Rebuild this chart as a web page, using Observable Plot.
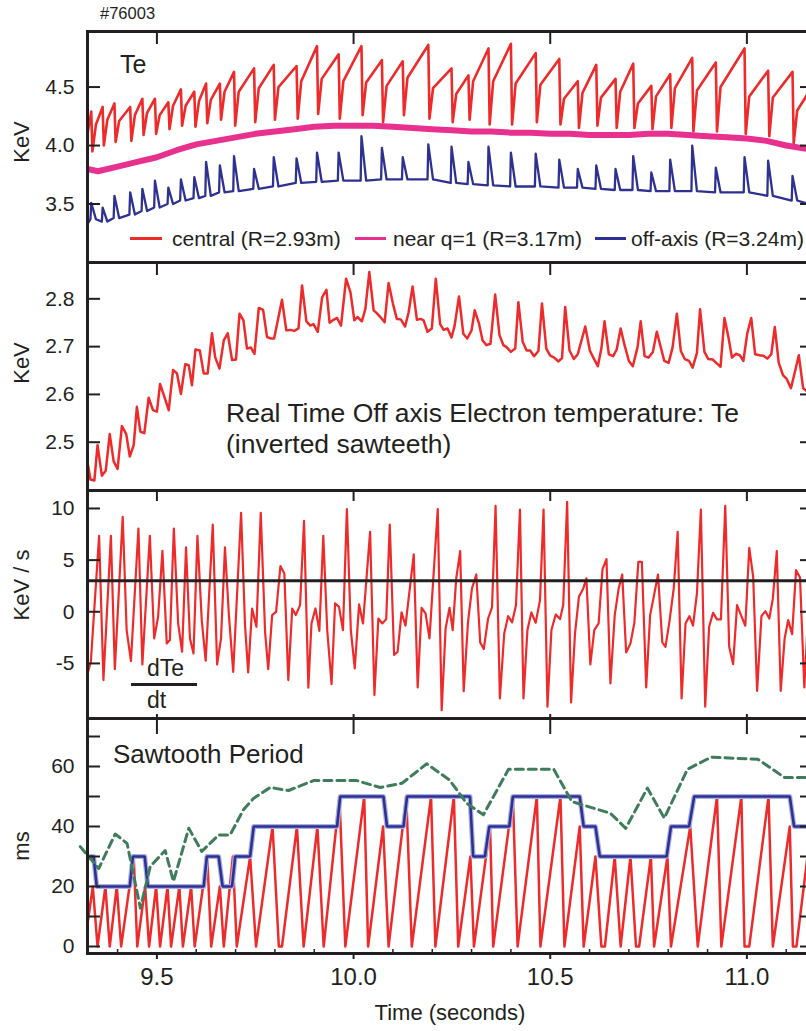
<!DOCTYPE html>
<html><head><meta charset="utf-8">
<script src="https://cdn.jsdelivr.net/npm/d3@7"></script>
<script src="https://cdn.jsdelivr.net/npm/@observablehq/plot@0.6"></script>
<style>
body{margin:0;background:#fff;}
#chart{position:relative;width:806px;height:1031px;overflow:hidden;background:#fff;font-family:"Liberation Sans",Arial,Helvetica,sans-serif;color:#231f20;}
.lbl{position:absolute;white-space:nowrap;line-height:1;}
.sw{position:absolute;height:3px;}
</style></head><body><div id="chart"></div>
<script>
// ---------- shared axis values ----------
const timeDomain = [9.3235, 11.1541];
const xTicks = [9.5, 10.0, 10.5, 11.0];
const xMinorTicks = [9.4, 9.6, 9.7, 9.8, 9.9, 10.1, 10.2, 10.3, 10.4, 10.6, 10.7, 10.8, 10.9, 11.1];

// ---------- panel 1 : Te traces (sawtooth crash times, s) ----------
const teCrashT = [9.333, 9.362, 9.392, 9.432, 9.463, 9.495, 9.529, 9.561, 9.595, 9.625, 9.660, 9.696, 9.747, 9.797, 9.855, 9.907, 9.962, 10.020, 10.072, 10.125, 10.190, 10.249, 10.292, 10.343, 10.400, 10.463, 10.523, 10.570, 10.617, 10.666, 10.711, 10.757, 10.805, 10.861, 10.921, 10.994, 11.054, 11.116];
const centralPeak = [4.29, 4.33, 4.36, 4.33, 4.40, 4.40, 4.37, 4.48, 4.46, 4.53, 4.53, 4.63, 4.66, 4.69, 4.68, 4.85, 4.78, 4.85, 4.73, 4.72, 4.86, 4.66, 4.60, 4.83, 4.87, 4.79, 4.74, 4.55, 4.69, 4.57, 4.70, 4.51, 4.61, 4.75, 4.71, 4.83, 4.64, 4.63];
const centralBottom = [3.95, 4.00, 4.03, 4.04, 4.09, 4.10, 4.14, 4.17, 4.16, 4.19, 4.22, 4.17, 4.20, 4.22, 4.23, 4.27, 4.23, 4.26, 4.20, 4.26, 4.23, 4.20, 4.22, 4.18, 4.18, 4.20, 4.18, 4.15, 4.17, 4.15, 4.15, 4.14, 4.15, 4.12, 4.12, 4.10, 4.08, 4.02];
const centralKnee = [4.18, 4.22, 4.21, 4.26, 4.28, 4.26, 4.34, 4.34, 4.38, 4.39, 4.46, 4.46, 4.49, 4.50, 4.55, 4.57, 4.55, 4.54, 4.51, 4.58, 4.49, 4.44, 4.55, 4.55, 4.53, 4.52, 4.40, 4.45, 4.41, 4.46, 4.36, 4.42, 4.49, 4.47, 4.50, 4.42, 4.41, 4.30];
const centralStartEnd = [[9.3235, 4.10], [11.156, 4.45]];
const offBase = [3.37, 3.35, 3.38, 3.41, 3.44, 3.47, 3.50, 3.53, 3.55, 3.57, 3.60, 3.61, 3.63, 3.65, 3.68, 3.69, 3.70, 3.70, 3.71, 3.71, 3.71, 3.68, 3.67, 3.66, 3.65, 3.65, 3.64, 3.64, 3.63, 3.62, 3.62, 3.61, 3.61, 3.61, 3.60, 3.60, 3.57, 3.53];
const offSpike = [3.51, 3.47, 3.57, 3.60, 3.63, 3.70, 3.64, 3.71, 3.73, 3.86, 3.83, 3.91, 3.80, 3.90, 3.89, 3.94, 3.94, 4.08, 3.98, 3.90, 4.01, 3.99, 3.86, 3.99, 3.94, 3.93, 3.88, 3.80, 3.83, 3.80, 3.91, 3.77, 3.88, 4.00, 3.81, 3.90, 3.87, 3.74];
const offStartEnd = [[9.3235, 3.33], [11.156, 3.50]];
const nearQT = [9.3235, 9.35, 9.40, 9.45, 9.50, 9.55, 9.60, 9.65, 9.70, 9.75, 9.80, 9.85, 9.90, 9.95, 10.00, 10.05, 10.10, 10.15, 10.20, 10.25, 10.30, 10.35, 10.40, 10.45, 10.50, 10.55, 10.60, 10.65, 10.70, 10.75, 10.80, 10.85, 10.90, 10.95, 11.00, 11.05, 11.10, 11.156];
const nearQV = [3.80, 3.78, 3.82, 3.86, 3.90, 3.96, 4.01, 4.04, 4.07, 4.10, 4.12, 4.14, 4.16, 4.17, 4.17, 4.17, 4.16, 4.15, 4.14, 4.13, 4.12, 4.12, 4.11, 4.11, 4.10, 4.10, 4.09, 4.09, 4.09, 4.10, 4.10, 4.09, 4.08, 4.07, 4.06, 4.04, 4.00, 3.97];

// ---------- panel 2 : real-time off-axis Te (keV) ----------
const rtT = [9.324,9.331,9.341,9.349,9.360,9.370,9.380,9.390,9.400,9.411,9.422,9.431,9.441,9.449,9.458,9.468,9.479,9.490,9.500,9.508,9.519,9.530,9.541,9.551,9.561,9.572,9.581,9.589,9.598,9.609,9.619,9.629,9.640,9.648,9.659,9.670,9.680,9.691,9.701,9.710,9.720,9.729,9.739,9.748,9.759,9.770,9.780,9.790,9.798,9.818,9.829,9.839,9.849,9.860,9.869,9.880,9.890,9.898,9.909,9.920,9.931,9.939,9.949,9.958,9.968,9.981,9.992,10.002,10.010,10.021,10.030,10.040,10.051,10.059,10.070,10.079,10.089,10.100,10.110,10.120,10.131,10.140,10.150,10.161,10.170,10.178,10.188,10.199,10.209,10.220,10.229,10.239,
10.249,10.257,10.268,10.279,10.289,10.300,10.308,10.319,10.328,10.338,10.348,10.360,10.371,10.381,10.389,10.400,10.411,10.419,10.430,10.440,10.449,10.459,10.470,10.479,10.490,10.500,10.510,10.521,10.530,10.538,10.549,10.560,10.570,10.589,10.601,10.611,10.621,10.630,10.638,10.649,10.660,10.669,10.679,10.689,10.700,10.710,10.722,10.730,10.740,10.750,10.761,10.771,10.781,10.790,10.801,10.811,10.822,10.832,10.842,10.853,10.862,10.873,10.881,10.892,10.902,10.913,10.922,10.933,10.943,10.953,10.962,10.972,10.982,10.991,11.001,11.011,11.021,11.032,11.042,11.052,11.062,11.071,11.081,11.092,11.101,11.112,11.122,11.132,11.143,11.154];
const rtV = [2.456,2.422,2.420,2.494,2.430,2.441,2.517,2.460,2.444,2.534,2.517,2.470,2.494,2.574,2.522,2.519,2.593,2.567,2.564,2.622,2.595,2.567,2.651,2.644,2.601,2.663,2.661,2.619,2.694,2.692,2.644,2.644,2.728,2.678,2.654,2.713,2.728,2.672,2.673,2.769,2.755,2.696,2.698,2.685,2.781,2.777,2.720,2.717,2.717,2.798,2.734,2.735,2.733,2.738,2.828,2.753,2.744,2.747,2.731,2.803,2.819,2.750,2.756,2.760,2.744,2.842,2.814,2.755,2.762,2.753,2.779,2.856,2.776,2.770,2.760,2.751,2.833,2.790,2.758,2.757,2.742,2.772,2.826,2.756,2.758,2.755,2.731,2.738,2.842,2.747,2.735,2.738,
2.719,2.744,2.805,2.727,2.717,2.734,2.776,2.748,2.713,2.703,2.706,2.809,2.724,2.703,2.699,2.689,2.696,2.793,2.710,2.692,2.692,2.680,2.691,2.790,2.696,2.681,2.677,2.669,2.676,2.783,2.692,2.674,2.684,2.742,2.691,2.675,2.659,2.696,2.753,2.684,2.680,2.694,2.738,2.703,2.670,2.659,2.699,2.753,2.680,2.677,2.689,2.731,2.699,2.670,2.666,2.698,2.769,2.691,2.674,2.670,2.656,2.687,2.778,2.689,2.674,2.673,2.666,2.658,2.760,2.720,2.677,2.685,2.682,2.670,2.728,2.760,2.684,2.682,2.681,2.675,2.684,2.741,2.666,2.640,2.633,2.613,2.647,2.682,2.613,2.606];

// ---------- panel 3 : dTe/dt (keV/s) ----------
const dTeT = [9.325,9.332,9.353,9.364,9.383,9.393,9.413,9.423,9.434,9.453,9.463,9.482,9.493,9.503,9.514,9.525,9.533,9.543,9.554,9.564,9.574,9.584,9.593,9.603,9.614,9.624,9.642,9.653,9.663,9.673,9.683,9.694,9.714,9.724,9.732,9.742,9.753,9.764,9.775,9.783,9.793,9.803,9.814,9.824,9.834,9.844,9.853,9.864,9.874,9.885,9.893,9.903,9.913,9.923,9.933,9.944,9.953,9.963,9.973,9.983,9.993,10.003,10.014,10.024,10.042,10.053,10.063,10.073,10.083,10.092,10.103,10.112,10.122,10.132,10.153,10.163,10.173,10.183,10.193,10.214,10.224,10.234,10.244,
10.252,10.261,10.271,10.280,10.291,10.301,10.312,10.322,10.331,10.342,10.352,10.361,10.372,10.383,10.393,10.403,10.413,10.423,10.432,10.442,10.452,10.463,10.474,10.483,10.493,10.503,10.514,10.525,10.533,10.543,10.553,10.563,10.573,10.584,10.592,10.602,10.612,10.623,10.633,10.643,10.653,10.664,10.674,10.683,10.693,10.704,10.714,10.724,10.733,10.744,10.754,10.764,10.774,10.785,10.793,10.803,10.814,10.824,10.834,10.844,10.854,10.863,10.873,10.883,10.894,10.904,10.914,10.924,10.934,10.945,10.955,10.965,10.975,10.986,10.996,11.006,11.016,11.026,11.037,11.047,11.057,11.066,11.076,11.086,11.096,11.105,11.115,11.125,11.135,11.146,11.156];
const dTeV = [-5.8,-4.84,7.35,-6.61,7.35,-5.55,9.19,-1.77,-4.77,8.06,-5.10,7.35,-2.58,-0.48,5.90,-3.06,-2.74,8.06,-1.13,-3.87,6.23,-2.58,-4.03,7.35,-0.81,-4.74,8.45,-5.10,-2.58,6.23,-0.32,-5.81,9.58,-1.29,-5.87,0.32,-1.45,9.58,-1.94,-5.55,-0.32,0,4.42,3.71,-6.61,0.32,-0.32,0.65,8.81,-7.35,-1.13,0.32,-1.84,7.35,-1.77,-7.0,0.81,0.48,-1.77,9.94,-1.77,-5.48,0.71,-1.13,7.74,-8.06,-0.65,-1.13,-0.71,8.45,-4.19,-3.87,-0.06,-1.35,5.55,-7.32,0.39,-0.16,-2.58,9.94,-9.52,-1.61,0.39,
-1.77,3.23,5.87,-7.68,-0.97,2.26,3.61,-2.97,-3.61,-0.65,0.42,10.26,-8.39,-2.10,-0.42,-1.03,0.65,9.90,-8.39,-1.77,-0.06,-1.06,1.13,9.90,-9.19,-1.77,-0.26,-0.71,0.65,10.65,-8.77,-2.10,1.45,2.26,3.23,-5.10,-1.77,-1.13,4.13,5.10,-6.94,-0.32,2.26,3.61,-3.94,-3.06,-1.03,4.84,4.84,-7.32,-0.32,1.61,3.61,-2.97,-3.39,-0.97,2.26,7.74,-8.39,-1.13,-0.42,-1.35,1.77,9.90,-9.19,-1.45,-0.10,-0.74,-0.74,10.26,-3.39,-5.06,0.65,-0.42,-1.35,6.19,3.39,-7.65,-0.42,0.06,-0.65,1.29,5.87,-7.65,-2.58,-0.81,-2.16,4.03,3.32,-7.32,-0.10];
const dTeThreshold = 3;

// ---------- panel 4 : sawtooth period (ms) ----------
const sawT = [9.324,9.337,9.349,9.369,9.380,9.398,9.409,9.441,9.450,9.470,9.480,9.498,9.508,9.527,9.536,9.557,9.566,9.587,9.596,9.628,9.638,9.660,9.670,9.693,9.703,9.737,9.752,9.794,9.810,9.818,9.856,9.873,9.908,9.924,9.964,9.979,10.027,10.037,10.075,10.089,10.134,10.148,10.197,10.208,10.255,10.266,10.297,10.306,10.347,10.355,10.405,10.417,10.466,10.475,10.526,10.536,10.575,10.585,10.615,10.630,10.639,10.664,10.679,10.704,10.718,10.726,10.756,10.764,10.798,10.807,10.856,10.875,10.924,10.935,10.986,10.994,11.006,11.055,11.066,11.109,11.117,11.126,11.154];
const sawV = [8,20,0,20,0,20,0,30,0,20,0,20,0,20,0,20,0,20,0,30,0,20,0,30,0,30,0,40,0,0,40,0,40,0,50,0,50,0,40,0,50,0,50,0,50,0,30,0,40,0,50,0,50,0,50,0,40,0,30,0,0,30,0,30,0,0,30,0,30,0,40,0,50,0,50,0,0,50,0,40,0,0,30];
const stepT = [9.3235,9.339,9.347,9.431,9.439,9.469,9.477,9.619,9.627,9.657,9.667,9.691,9.699,9.737,9.746,9.958,9.966,10.076,10.085,10.127,10.136,10.296,10.304,10.334,10.345,10.396,10.405,10.575,10.585,10.615,10.626,10.796,10.807,10.853,10.866,11.109,11.120,11.156];
const stepV = [30,30,20,20,30,30,20,20,30,30,20,20,30,30,40,40,50,50,40,40,50,50,30,30,40,40,50,50,40,40,30,30,40,40,50,50,40,40];
const avgT = [9.305,9.352,9.394,9.424,9.458,9.483,9.521,9.542,9.581,9.614,9.657,9.686,9.720,9.746,9.788,9.835,9.898,10.008,10.068,10.123,10.186,10.244,10.287,10.330,10.394,10.509,10.555,10.653,10.692,10.747,10.790,10.849,10.909,11.028,11.096,11.156];
const avgV = [33.3,26,37.5,34.4,12.8,26.7,32,21.7,39.4,31.7,37.2,37.2,45.6,49.4,53,52,55.3,55.3,53,54.4,60.9,55.5,47.8,43.9,59.1,59.1,48.3,44.4,39.4,52.8,42.8,59.1,63.1,62.4,56.3,56.3];

// ---------- styling ----------
const INK = "#231f20", RED = "#ee2b2b", MAG = "#e8318e", BLUE = "#2e3192", GREEN = "#3f7c5c", HALO = "#aab1e2";
const FONT = "'Liberation Sans', Arial, Helvetica, sans-serif";
const crashFall = 0.003, kneeLag = 0.012, spikeLead = 0.002, spikeDecay = 0.012;

// ---------- build tables ----------
const zip = (T, V) => T.map((t, i) => ({t, v: V[i]}));
const centralPts = [{t: centralStartEnd[0][0], v: centralStartEnd[0][1]}];
teCrashT.forEach((t, i) => centralPts.push({t, v: centralPeak[i]}, {t: t + crashFall, v: centralBottom[i]}, {t: t + kneeLag, v: centralKnee[i]}));
centralPts.push({t: centralStartEnd[1][0], v: centralStartEnd[1][1]});
const offPts = [{t: offStartEnd[0][0], v: offStartEnd[0][1]}];
teCrashT.forEach((t, i) => offPts.push({t: t - spikeLead, v: offBase[i]}, {t, v: offSpike[i]}, {t: t + spikeDecay, v: offBase[i]}));
offPts.push({t: offStartEnd[1][0], v: offStartEnd[1][1]});
const nearPts = zip(nearQT, nearQV);
const rtPts = zip(rtT, rtV);
const dTePts = zip(dTeT, dTeV);
const sawPts = zip(sawT, sawV);
const stepPts = zip(stepT, stepV);
const avgPts = zip(avgT, avgV);

const root = document.getElementById("chart");
const blank = () => "";

function yAxisMarks(tickVals, labelVals, fmt) {
  return [
    Plot.axisY({anchor: "left", ticks: tickVals, tickSize: -13, tickFormat: blank, label: null, strokeWidth: 2}),
    Plot.axisY({anchor: "right", ticks: tickVals, tickSize: -8, tickFormat: blank, label: null, strokeWidth: 2}),
    Plot.axisY({anchor: "left", ticks: labelVals, tickSize: 0, tickPadding: 13, tickFormat: fmt, label: null, fontSize: 21})
  ];
}
function topTicks(size) {
  return Plot.axisX({anchor: "top", ticks: xTicks, tickSize: -size, tickFormat: blank, label: null, strokeWidth: 2});
}
function panel(top, height, mt, mb, yDomain, marks) {
  const svg = Plot.plot({
    width: 807, height, marginTop: mt, marginBottom: mb, marginLeft: 87, marginRight: 0,
    x: {domain: timeDomain}, y: {domain: yDomain},
    marks
  });
  svg.setAttribute("style", `position:absolute;left:0;top:${top}px;overflow:visible;background:transparent;max-width:none;font-family:${FONT};font-size:21px;color:${INK};`);
  root.appendChild(svg);
  return svg;
}

// Panel 1
panel(0, 262, 31, 0, [3.0, 4.975], [
  Plot.line(centralPts, {x: "t", y: "v", stroke: RED, strokeWidth: 2.6, clip: true}),
  Plot.line(nearPts, {x: "t", y: "v", stroke: MAG, strokeWidth: 6, clip: true}),
  Plot.line(offPts, {x: "t", y: "v", stroke: BLUE, strokeWidth: 2.3, clip: true}),
  ...yAxisMarks([3.5, 4.0, 4.5], [3.5, 4.0, 4.5], d3.format(".1f")),
  topTicks(12),
  Plot.frame({stroke: INK, strokeWidth: 3})
]);
// Panel 2
panel(262, 228, 0, 0, [2.399, 2.876], [
  Plot.line(rtPts, {x: "t", y: "v", stroke: RED, strokeWidth: 2.5, clip: true}),
  ...yAxisMarks([2.5, 2.6, 2.7, 2.8], [2.5, 2.6, 2.7, 2.8], d3.format(".1f")),
  topTicks(12),
  Plot.frame({stroke: INK, strokeWidth: 3})
]);
// Panel 3
panel(490, 228, 0, 0, [-10.33, 11.74], [
  Plot.line(dTePts, {x: "t", y: "v", stroke: RED, strokeWidth: 2.2, clip: true}),
  Plot.ruleY([dTeThreshold], {stroke: INK, strokeWidth: 3}),
  ...yAxisMarks([-5, 0, 5, 10], [-5, 0, 5, 10], d => String(d)),
  topTicks(10),
  Plot.axisX({anchor: "bottom", ticks: xTicks, tickSize: -4, tickFormat: blank, label: null, strokeWidth: 2}),
  Plot.frame({stroke: INK, strokeWidth: 3})
]);
// Panel 4
panel(718, 313, 0, 78, [-2.33, 76], [
  Plot.line(sawPts, {x: "t", y: "v", stroke: RED, strokeWidth: 2.5, clip: true}),
  Plot.line(stepPts, {x: "t", y: "v", stroke: HALO, strokeWidth: 5, clip: true}),
  Plot.line(stepPts, {x: "t", y: "v", stroke: BLUE, strokeWidth: 2.6, strokeLinejoin: "miter", clip: true}),
  Plot.line(avgPts, {x: "t", y: "v", stroke: GREEN, strokeWidth: 3, strokeDasharray: "8,5"}),
  ...yAxisMarks([0, 10, 20, 30, 40, 50, 60, 70], [0, 20, 40, 60], d => String(d)),
  topTicks(15),
  Plot.axisX({anchor: "bottom", ticks: xMinorTicks, tickSize: -4, tickFormat: blank, label: null, strokeWidth: 1.5}),
  Plot.axisX({anchor: "bottom", ticks: xTicks, tickSize: 6, tickPadding: 8, tickFormat: d3.format(".1f"), label: null, strokeWidth: 2, fontSize: 24}),
  Plot.frame({stroke: INK, strokeWidth: 3})
]);

// ---------- text annotations ----------
function label(text, css) {
  const d = document.createElement("div");
  d.className = "lbl"; d.textContent = text; d.style.cssText += css;
  root.appendChild(d); return d;
}
function swatch(left, top, width, color) {
  const d = document.createElement("div");
  d.className = "sw"; d.style.left = left + "px"; d.style.top = top + "px"; d.style.width = width + "px"; d.style.background = color;
  root.appendChild(d);
}
label("#76003", "left:100px;top:5px;font-size:16.5px;");
label("Te", "left:120px;top:52px;font-size:25px;");
swatch(130, 237, 32, RED);   label("central (R=2.93m)", "left:172px;top:228px;font-size:21px;");
swatch(355, 237, 31, MAG);   label("near q=1 (R=3.17m)", "left:393px;top:228px;font-size:21px;");
swatch(595, 237, 31, BLUE);  label("off-axis (R=3.24m)", "left:631px;top:228px;font-size:21px;");
label("Real Time Off axis Electron temperature: Te", "left:226px;top:400px;font-size:26.5px;");
label("(inverted sawteeth)", "left:226px;top:431px;font-size:26.5px;");
label("dTe", "left:147px;top:657px;font-size:23px;");
swatch(131, 683, 66, INK);
label("dt", "left:147px;top:689px;font-size:23px;");
label("Sawtooth Period", "left:113px;top:741px;font-size:26px;");
label("Time (seconds)", "left:450px;top:1002px;font-size:22px;transform:translateX(-50%);");
const rot = "transform:translate(-50%,-50%) rotate(-90deg);font-size:22px;left:22px;";
label("KeV", rot + "top:142px;");
label("KeV", rot + "top:363px;");
label("KeV / s", rot + "top:585px;");
label("ms", rot + "top:846px;");
</script></body></html>
